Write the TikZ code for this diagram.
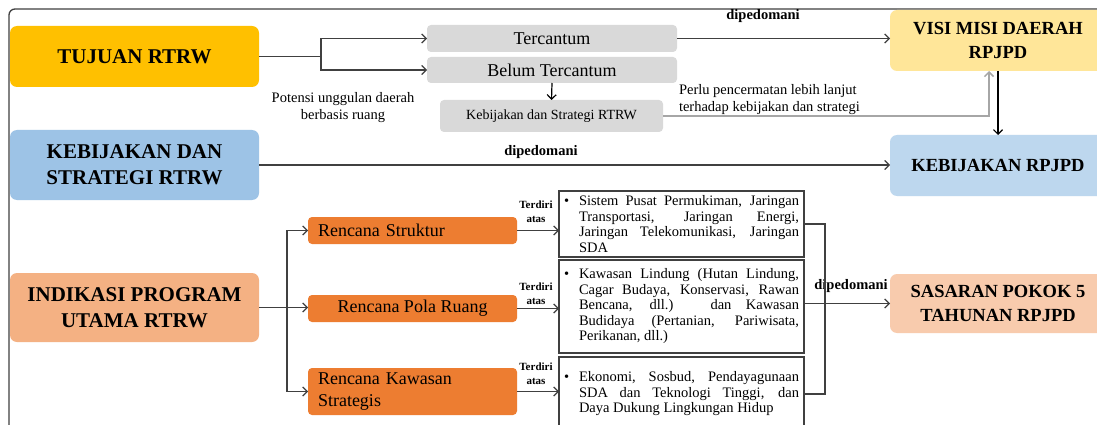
\documentclass[tikz,border=0pt]{standalone}
\usepackage{fontspec}
\setmainfont{Liberation Serif}
\usetikzlibrary{arrows.meta}
\definecolor{cgold}{HTML}{FFC000}
\definecolor{cblue}{HTML}{9DC3E6}
\definecolor{cpeach}{HTML}{F4B183}
\definecolor{cgray}{HTML}{D9D9D9}
\definecolor{cly}{HTML}{FFE699}
\definecolor{clb}{HTML}{BDD7EE}
\definecolor{clp}{HTML}{F8CBAD}
\definecolor{corange}{HTML}{ED7D31}
\definecolor{cline}{HTML}{404040}
\definecolor{cgline}{HTML}{A6A6A6}
\newcommand{\bitem}[1]{\leftskip=15pt\hspace*{-15pt}\makebox[15pt][l]{\textbullet}#1\par}
\begin{document}
\begin{tikzpicture}[x=1pt,y=-1pt,
 every node/.style={inner sep=0pt, outer sep=0pt},
 ln/.style={draw=cline, line width=1.2pt},
 arr/.style={ln, -{Straight Barb[length=4.5pt,width=9pt,line width=1.2pt]}},
 bigbox/.style={rounded corners=7pt, align=center, font=\bfseries\fontsize{21}{26}\selectfont, minimum width=249pt},
 rbox/.style={rounded corners=7pt, align=center, font=\bfseries\fontsize{18.5}{24}\selectfont, minimum width=216pt, minimum height=61pt},
 graybox/.style={fill=cgray, rounded corners=4pt, font=\fontsize{18}{22}\selectfont},
 obox/.style={fill=corange, rounded corners=4pt, minimum width=209pt, font=\fontsize{18}{22}\selectfont},
 wbox/.style={draw=cline, line width=1.2pt, fill=white, text width=235pt, inner xsep=5pt, align=justify, font=\fontsize{14.5}{15.5}\selectfont},
 note/.style={font=\fontsize{14.5}{17}\selectfont},
 lbl/.style={font=\bfseries\fontsize{14.5}{17}\selectfont},
 small/.style={font=\bfseries\fontsize{11}{14}\selectfont, align=center},
]
\useasboundingbox (0,0) rectangle (1097,425);
\clip (0,0) rectangle (1097,425);
\fill[white] (0,0) rectangle (1097,425);
% outer frame
\draw[draw=cline, line width=1.3pt, rounded corners=6pt] (9,460) |- (1130,9);

% left column
\node[bigbox, fill=cgold, minimum height=61pt] (tujuan) at (134.5,56.5) {TUJUAN RTRW};
\node[bigbox, fill=cblue, minimum height=70pt] (kebstr) at (134.5,165) {KEBIJAKAN DAN\\STRATEGI RTRW};
\node[bigbox, fill=cpeach, minimum height=69pt] (indikasi) at (134.5,307.5) {INDIKASI PROGRAM\\UTAMA RTRW};

% gray boxes
\node[graybox, minimum width=250pt, minimum height=27pt] (tercantum) at (552,38.5) {Tercantum};
\node[graybox, minimum width=250pt, minimum height=26pt] (belum) at (552,70) {Belum Tercantum};
\node[graybox, minimum width=223pt, minimum height=32pt, font=\fontsize{14}{17}\selectfont] (kebrtrw) at (551.5,116) {Kebijakan dan Strategi RTRW};

\node[note, align=center] (potensi) at (343,107.5) {Potensi unggulan daerah\\berbasis ruang};
\node[note, align=left, anchor=west] (perlu) at (679,99.5) {Perlu pencermatan lebih lanjut\\terhadap kebijakan dan strategi};

% right column
\node[rbox, fill=cly] (visi) at (998,40.5) {VISI MISI DAERAH\\RPJPD};
\node[rbox, fill=clb] (kebrpjpd) at (998,165.5) {KEBIJAKAN RPJPD};
\node[rbox, fill=clp, minimum height=59pt] (sasaran) at (998,303.5) {SASARAN POKOK 5\\TAHUNAN RPJPD};

% orange boxes
\node[obox, text width=189pt, inner xsep=10pt, align=left, minimum height=27pt] (rstruktur) at (412.5,230.5) {Rencana Struktur};
\node[obox, align=center, minimum height=27pt] (rpola) at (412.5,308.5) {Rencana Pola Ruang};
\node[obox, text width=189pt, inner xsep=10pt, align=left, minimum height=47pt] (rkawasan) at (412.5,391.5) {Rencana Kawasan\\Strategis};

% white boxes
\node[wbox, minimum height=66pt] (wb1) at (681.5,224) {\bitem{Sistem Pusat Permukiman, Jaringan\linebreak Transportasi, Jaringan Energi,\linebreak Jaringan Telekomunikasi, Jaringan\linebreak SDA}};
\node[wbox, minimum height=93pt] (wb2) at (681.5,306.5) {\bitem{Kawasan Lindung (Hutan Lindung,\linebreak Cagar Budaya, Konservasi, Rawan\linebreak Bencana, dll.) dan Kawasan\linebreak Budidaya (Pertanian, Pariwisata,\linebreak Perikanan, dll.)}};
\node[wbox, minimum height=74pt] (wb3) at (681.5,394) {\bitem{Ekonomi, Sosbud, Pendayagunaan\linebreak SDA dan Teknologi Tinggi, dan\linebreak Daya Dukung Lingkungan Hidup}};

% labels
\node[lbl] (dip1) at (763,16) {dipedomani};
\node[lbl] (dip2) at (541,152) {dipedomani};
\node[lbl] (dip3) at (851,286) {dipedomani};
\node[small] (td1) at (536,212) {Terdiri\\atas};
\node[small] (td2) at (536,294) {Terdiri\\atas};
\node[small] (td3) at (536,374) {Terdiri\\atas};

% connectors
\draw[arr] (tujuan.east) -- ++(62,0) |- (tercantum.west);
\draw[arr] (tujuan.east) -- ++(62,0) |- (belum.west);
\draw[arr] (tercantum.east) -- (tercantum.east -| visi.west);
\draw[arr, draw=black] (belum.south) -- (kebrtrw.north);
\draw[draw=cgline, line width=1.8pt, -{Straight Barb[length=4.5pt,width=9pt,line width=1.5pt]}] (kebrtrw.east) -| ([xshift=-9pt]visi.south);
\draw[arr, draw=black] (visi.south) -- (kebrpjpd.north);
\draw[arr] (kebstr.east) -- (kebstr.east -| kebrpjpd.west);

\draw[arr] (indikasi.east) -- ++(28,0) |- (rstruktur.west);
\draw[arr] (indikasi.east) -- (indikasi.east -| rpola.west);
\draw[arr] (indikasi.east) -- ++(28,0) |- (rkawasan.west);

\draw[arr] (rstruktur.east) -- (rstruktur.east -| wb1.west);
\draw[arr] (rpola.east) -- (rpola.east -| wb2.west);
\draw[arr] (rkawasan.east) -- (rkawasan.east -| wb3.west);

\draw[ln] (wb1.east) -- ++(21,0) |- (wb3.east);
\draw[arr] (wb2.east |- sasaran.west) -- (sasaran.west);
\end{tikzpicture}
\end{document}
